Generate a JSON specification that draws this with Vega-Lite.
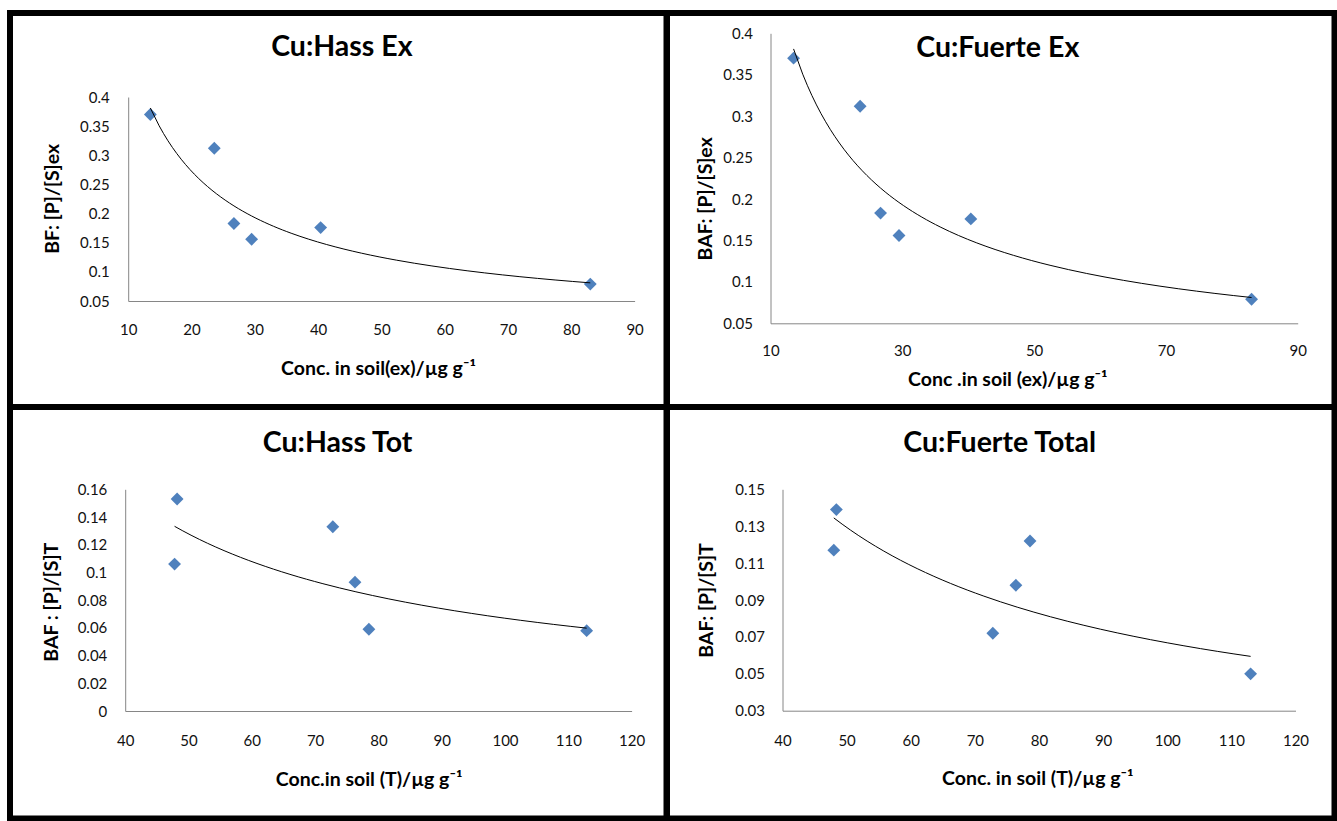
{
  "$schema": "https://vega.github.io/schema/vega-lite/v6.json",
  "background": "white",
  "padding": {"left": 7, "top": 10, "right": 0, "bottom": 0},
  "bounds": "flush",
  "spacing": 0,
  "columns": 2,
  "datasets": {
    "cu_ex": [
      {"conc": 13.5, "baf": 0.370},
      {"conc": 23.6, "baf": 0.312},
      {"conc": 26.7, "baf": 0.183},
      {"conc": 29.5, "baf": 0.156},
      {"conc": 40.4, "baf": 0.176},
      {"conc": 83.0, "baf": 0.079}
    ],
    "hass_tot": [
      {"conc": 48.2, "baf": 0.153},
      {"conc": 47.8, "baf": 0.106},
      {"conc": 72.8, "baf": 0.133},
      {"conc": 76.3, "baf": 0.093},
      {"conc": 78.5, "baf": 0.059},
      {"conc": 112.9, "baf": 0.058}
    ],
    "fuerte_tot": [
      {"conc": 48.4, "baf": 0.139},
      {"conc": 48.0, "baf": 0.117},
      {"conc": 78.6, "baf": 0.122},
      {"conc": 76.4, "baf": 0.098},
      {"conc": 72.8, "baf": 0.072},
      {"conc": 113.0, "baf": 0.050}
    ]
  },
  "concat": [
    {
      "width": 656.5,
      "height": 394,
      "title": {"text": "Cu:Hass Ex", "anchor": "middle", "frame": "group", "orient": "top", "offset": -62.7, "baseline": "middle", "dx": 3.6},
      "data": {"name": "cu_ex"},
      "encoding": {
        "x": {"field": "conc", "type": "quantitative",
          "scale": {"domain": [10, 90], "range": [118.2, 624.6], "zero": false, "nice": false},
          "axis": {"title": "Conc. in soil(ex)/µg g⁻¹", "values": [10, 20, 30, 40, 50, 60, 70, 80, 90], "format": "d", "offset": -106, "labelPadding": 21.2, "titleX": 368, "titleY": 67}},
        "y": {"field": "baf", "type": "quantitative",
          "scale": {"domain": [0.05, 0.4], "range": [288, 84], "zero": false, "nice": false},
          "axis": {"title": "BF: [P]/[S]ex", "values": [0.05, 0.1, 0.15, 0.2, 0.25, 0.3, 0.35, 0.4], "format": "~g", "offset": -118.2, "labelPadding": 19, "titleX": -75.9, "titleY": 185.3}}
      },
      "layer": [
        {"mark": {"type": "point", "shape": "diamond", "filled": true, "size": 165, "color": "#4F81BD", "opacity": 1}},
        {"transform": [{"regression": "baf", "on": "conc", "method": "pow"}],
         "mark": {"type": "line", "color": "#000000", "strokeWidth": 1}}
      ]
    },
    {
      "width": 667.5,
      "height": 394,
      "title": {"text": "Cu:Fuerte Ex", "anchor": "middle", "frame": "group", "orient": "top", "offset": -63.7, "baseline": "middle", "dx": -3},
      "data": {"name": "cu_ex"},
      "encoding": {
        "x": {"field": "conc", "type": "quantitative",
          "scale": {"domain": [10, 90], "range": [103.5, 630.7], "zero": false, "nice": false},
          "axis": {"title": "Conc .in soil (ex)/µg g⁻¹", "values": [10, 30, 50, 70, 90], "format": "d", "offset": -83.7, "labelPadding": 20.5, "titleX": 340.3, "titleY": 55.7}},
        "y": {"field": "baf", "type": "quantitative",
          "scale": {"domain": [0.05, 0.4], "range": [310.3, 20.3], "zero": false, "nice": false},
          "axis": {"title": "BAF: [P]/[S]ex", "values": [0.05, 0.1, 0.15, 0.2, 0.25, 0.3, 0.35, 0.4], "format": "~g", "offset": -103.5, "labelPadding": 18, "titleX": -65.4, "titleY": 185.3}}
      },
      "layer": [
        {"mark": {"type": "point", "shape": "diamond", "filled": true, "size": 165, "color": "#4F81BD", "opacity": 1}},
        {"transform": [{"regression": "baf", "on": "conc", "method": "pow"}],
         "mark": {"type": "line", "color": "#000000", "strokeWidth": 1}}
      ]
    },
    {
      "width": 656.5,
      "height": 411.5,
      "title": {"text": "Cu:Hass Tot", "anchor": "middle", "frame": "group", "orient": "top", "offset": -64.4, "baseline": "middle", "dx": -0.6},
      "data": {"name": "hass_tot"},
      "encoding": {
        "x": {"field": "conc", "type": "quantitative",
          "scale": {"domain": [40, 120], "range": [115.2, 621.6], "zero": false, "nice": false},
          "axis": {"title": "Conc.in soil (T)/µg g⁻¹", "values": [40, 50, 60, 70, 80, 90, 100, 110, 120], "format": "d", "offset": -107.5, "labelPadding": 22.2, "titleX": 358.6, "titleY": 68}},
        "y": {"field": "baf", "type": "quantitative",
          "scale": {"domain": [0, 0.16], "range": [304, 82.3], "zero": false, "nice": false},
          "axis": {"title": "BAF : [P]/[S]T", "values": [0, 0.02, 0.04, 0.06, 0.08, 0.1, 0.12, 0.14, 0.16], "format": "~g", "offset": -115.2, "labelPadding": 18.4, "titleX": -73.9, "titleY": 194.7}}
      },
      "layer": [
        {"mark": {"type": "point", "shape": "diamond", "filled": true, "size": 165, "color": "#4F81BD", "opacity": 1}},
        {"transform": [{"regression": "baf", "on": "conc", "method": "pow"}],
         "mark": {"type": "line", "color": "#000000", "strokeWidth": 1}}
      ]
    },
    {
      "width": 667.5,
      "height": 411.5,
      "title": {"text": "Cu:Fuerte Total", "anchor": "middle", "frame": "group", "orient": "top", "offset": -64.4, "baseline": "middle", "dx": -1},
      "data": {"name": "fuerte_tot"},
      "encoding": {
        "x": {"field": "conc", "type": "quantitative",
          "scale": {"domain": [40, 120], "range": [115.5, 628.5], "zero": false, "nice": false},
          "axis": {"title": "Conc. in soil (T)/µg g⁻¹", "values": [40, 50, 60, 70, 80, 90, 100, 110, 120], "format": "d", "offset": -107.8, "labelPadding": 22.5, "titleX": 370.3, "titleY": 67.3}},
        "y": {"field": "baf", "type": "quantitative",
          "scale": {"domain": [0.03, 0.15], "range": [303.7, 82.3], "zero": false, "nice": false},
          "axis": {"title": "BAF: [P]/[S]T", "values": [0.03, 0.05, 0.07, 0.09, 0.11, 0.13, 0.15], "format": ".2f", "offset": -115.5, "labelPadding": 18, "titleX": -76.2, "titleY": 193}}
      },
      "layer": [
        {"mark": {"type": "point", "shape": "diamond", "filled": true, "size": 165, "color": "#4F81BD", "opacity": 1}},
        {"transform": [{"regression": "baf", "on": "conc", "method": "pow"}],
         "mark": {"type": "line", "color": "#000000", "strokeWidth": 1}}
      ]
    }
  ],
  "config": {
    "view": {"stroke": "#000000", "strokeWidth": 6, "fill": "white"},
    "concat": {"spacing": 0},
    "title": {"font": "Lato", "fontSize": 28.5, "fontWeight": "bold", "color": "#000000"},
    "axis": {
      "grid": false,
      "ticks": false,
      "tickSize": 0,
      "domainColor": "#868686",
      "domainWidth": 1,
      "labelFont": "Lato",
      "labelFontSize": 15,
      "labelColor": "#111111",
      "labelFlush": false,
      "labelOverlap": false,
      "labelBound": false,
      "titleFont": "Lato",
      "titleFontSize": 19.5,
      "titleFontWeight": "bold",
      "titleColor": "#000000",
      "titleAlign": "center",
      "titleBaseline": "middle"
    }
  }
}
